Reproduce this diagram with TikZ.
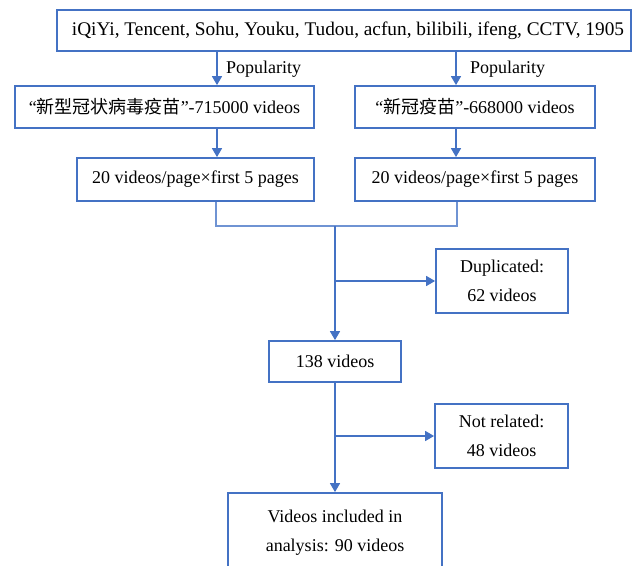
\documentclass[tikz,border=0pt]{standalone}
\usepackage{fontspec}
\setmainfont{Liberation Serif}
\newfontfamily\cjk{Noto Sans CJK SC}
\usetikzlibrary{arrows.meta}
\definecolor{fblue}{HTML}{4472C4}
\definecolor{fthin}{HTML}{6F93D3}
\tikzset{
  box/.style={draw=fblue, line width=1.8pt, inner sep=0pt, align=center,
    font=\fontsize{18}{28.5}\selectfont, text=black},
  arr/.style={draw=fblue, line width=1.6pt, -{Triangle[width=10pt,length=9pt]}},
  thin/.style={draw=fthin, line width=1.1pt},
  lbl/.style={font=\fontsize{18}{20}\selectfont, text=black, inner sep=0pt, anchor=west}
}
\begin{document}
\begin{tikzpicture}[x=1pt,y=-1pt]
\useasboundingbox (0,0) rectangle (634,565);
\begin{scope}
\clip (0,0) rectangle (634,565);
\node[box, minimum width=574pt, minimum height=41pt, font=\fontsize{19.3}{22}\selectfont] (top) at (344,30.5) {\hspace*{8pt}iQiYi, Tencent, Sohu, Youku, Tudou, acfun, bilibili, ifeng, CCTV, 1905};
\node[box, minimum width=299pt, minimum height=42pt] (L2) at (164.5,107) {“{\cjk 新型冠状病毒疫苗}”-715000 videos};
\node[box, minimum width=240pt, minimum height=42pt] (R2) at (475,107) {“{\cjk 新冠疫苗}”-668000 videos};
\node[box, minimum width=237pt, minimum height=43pt] (L3) at (195.5,179.5) {20 videos/page×first 5 pages};
\node[box, minimum width=240pt, minimum height=43pt] (R3) at (475,179.5) {20 videos/page×first 5 pages};
\node[box, minimum width=132pt, minimum height=64pt] (dup) at (502,281) {Duplicated:\\62 videos};
\node[box, minimum width=132pt, minimum height=41pt] (n138) at (335,361.5) {138 videos};
\node[box, minimum width=133pt, minimum height=64pt] (notrel) at (501.5,436) {Not related:\\48 videos};
\node[box, minimum width=214pt, minimum height=79pt] (final) at (335,532.5) {Videos included in\\analysis: 90 videos};

\coordinate (xa) at (217,0);
\coordinate (xb) at (456,0);
\coordinate (ja) at (216,226);
\coordinate (jb) at (457,226);
\coordinate (jm) at (335,226);

\draw[arr] (top.south -| xa) -- (L2.north -| xa);
\draw[arr] (top.south -| xb) -- (R2.north -| xb);
\node[lbl] (pa) at (226,69) {Popularity};
\node[lbl] (pb) at (470,69) {Popularity};
\draw[arr] (L2.south -| xa) -- (L3.north -| xa);
\draw[arr] (R2.south -| xb) -- (R3.north -| xb);

\draw[thin] (L3.south -| ja) -- (ja) -- (jb) -- (R3.south -| jb);
\draw[arr] (jm) -- (n138.north);
\draw[arr] (jm |- dup.west) -- (dup.west);
\draw[arr] (n138.south) -- (final.north);
\draw[arr] (n138.south |- notrel.west) -- (notrel.west);
\end{scope}
\end{tikzpicture}
\end{document}
